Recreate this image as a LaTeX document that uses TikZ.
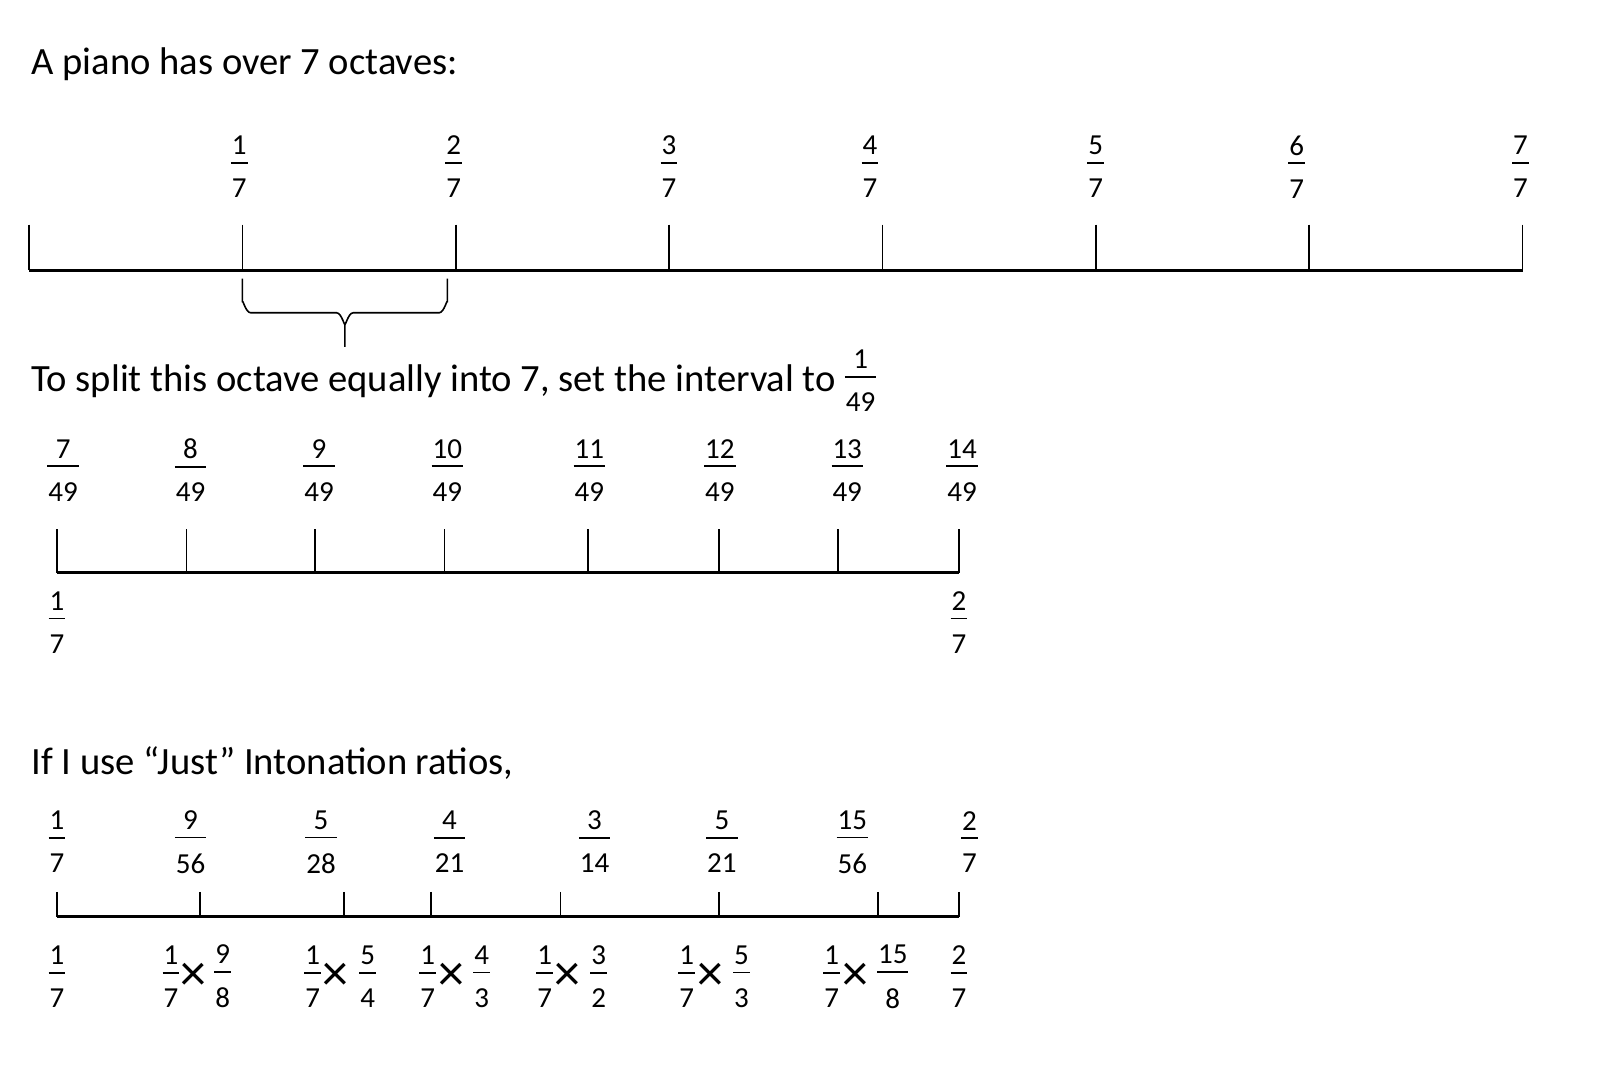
\documentclass[tikz,border=0pt]{standalone}
\usepackage{fontspec}
\setmainfont{Carlito}
\newcommand\frc[2]{%
  \begingroup\setbox0\hbox{#1}\setbox2\hbox{#2}%
  \dimen0=\ifdim\wd0>\wd2 \wd0\else\wd2\fi
  \advance\dimen0 by 1pt
  \vbox{\offinterlineskip\hbox to\dimen0{\hss\box0\hss}\kern3.6pt\hrule height 0.9pt\kern7.6pt\hbox to\dimen0{\hss\box2\hss}}\endgroup}
\tikzset{
  axis/.style={line width=1.3pt},
  tick/.style={line width=0.8pt},
  lab/.style={inner sep=0pt,font=\fontsize{14.5}{16}\selectfont},
  heading/.style={inner sep=0pt,anchor=base west,font=\fontsize{19.3}{23}\selectfont},
  times/.style={inner sep=0pt,font=\fontsize{26}{28}\selectfont},
  brace/.style={line width=0.8pt}
}
\begin{document}
\begin{tikzpicture}[x=0.5179pt,y=-0.5179pt]
\useasboundingbox (0,0) rectangle (1568,1050);
% title
\node[heading] (t1) at (30,72) {A piano has over 7 octaves:};
% top axis
\coordinate (a0) at (28,261);
\coordinate (a7) at (1470,261);
\draw[axis] (a0) -- (a7);
\foreach \x [count=\i] in {28,234,440,646,852,1058,1264,1470}{
  \coordinate (ta\i) at (\x,217);
  \coordinate (ba\i) at (\x,261);
  \draw[tick] (ta\i) -- (ba\i);
}
\foreach \x/\n in {231/1,438/2,646/3,840/4,1058/5,1252/6,1468/7}{
  \node[lab] (fa\n) at (\x,161) {\frc{\n}{7}};
}
% brace
\draw[brace] (234,269) -- (234,292) to[out=90,in=180] (242,302) -- (325,302) to[out=0,in=-90] (333,312) -- (333,335);
\draw[brace] (333,312) to[out=-90,in=180] (341,302) -- (424,302) to[out=0,in=90] (432,292) -- (432,269);
% second heading
\node[heading] (t2) at (30,378) {To split this octave equally into 7, set the interval to};
\node[lab] (f49) at (831,368) {\frc{1}{49}};
% second axis
\coordinate (b0) at (55,553);
\coordinate (b7) at (926,553);
\draw[axis] (b0) -- (b7);
\foreach \x [count=\i] in {55,180,304,429,568,694,809,926}{
  \coordinate (tb\i) at (\x,511);
  \coordinate (bb\i) at (\x,553);
  \draw[tick] (tb\i) -- (bb\i);
}
\foreach \x/\n in {61/7,184/8,308/9,432/10,569/11,695/12,818/13,929/14}{
  \node[lab] (fb\n) at (\x,454) {\frc{\n}{49}};
}
\node[lab] (fbl) at (55,601) {\frc{1}{7}};
\node[lab] (fbr) at (926,601) {\frc{2}{7}};
% third heading
\node[heading] (t3) at (30,748) {If I use “Just” Intonation ratios,};
\foreach \x/\n/\d [count=\i] in {55/1/7,184/9/56,310/5/28,434/4/21,574/3/14,697/5/21,823/15/56,936/2/7}{
  \node[lab] (fc\i) at (\x,813) {\frc{\n}{\d}};
}
\coordinate (c0) at (55,885);
\coordinate (c7) at (926,885);
\draw[axis] (c0) -- (c7);
\foreach \x [count=\i] in {55,193,332,416,541,694,848,926}{
  \coordinate (tc\i) at (\x,861);
  \coordinate (bc\i) at (\x,885);
  \draw[tick] (tc\i) -- (bc\i);
}
\node[lab] (pl) at (55,943) {\frc{1}{7}};
\node[lab] (pr) at (926,943) {\frc{2}{7}};
\foreach \xa/\xx/\xb/\n/\d [count=\i] in {165/187/215/9/8,302/324/355/5/4,413/436/465/4/3,526/548/578/3/2,663/686/716/5/3,803/826/862/15/8}{
  \node[lab] (pa\i) at (\xa,943) {\frc{1}{7}};
  \node[times] (px\i) at (\xx,943) {×};
  \node[lab] (pb\i) at (\xb,943) {\frc{\n}{\d}};
}
\end{tikzpicture}
\end{document}
